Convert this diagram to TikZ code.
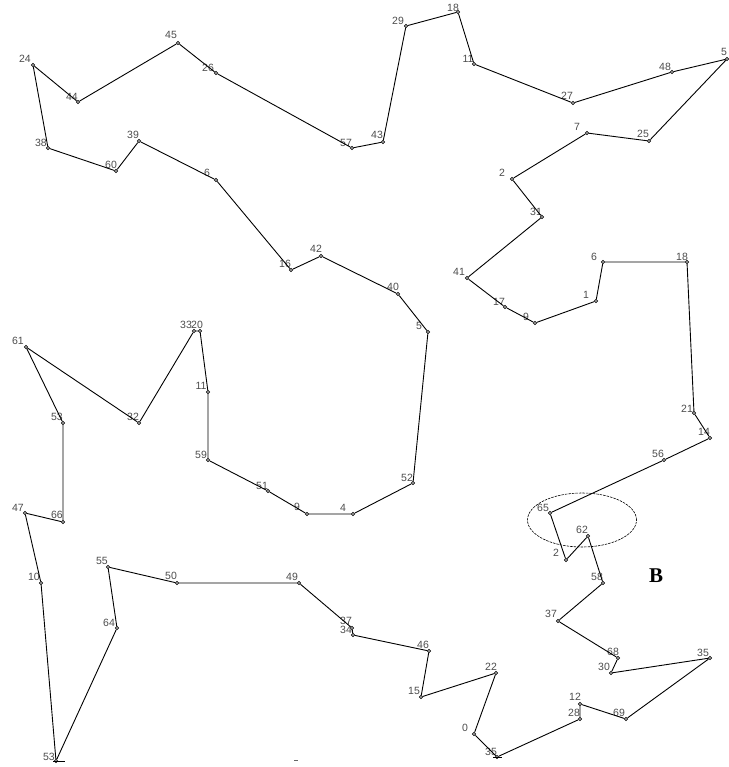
\documentclass[tikz,border=0pt]{standalone}
\usepackage{fontspec}
\usetikzlibrary{shapes.geometric}
\newfontfamily\labfont{Liberation Sans}
\newfontfamily\serfont{Liberation Serif}
\begin{document}
\begin{tikzpicture}[x=1pt,y=-1pt,
  pt/.style={circle,draw,inner sep=0pt,minimum size=3.2pt,line width=0.7pt,fill=white},
  lab/.style={font=\labfont\fontsize{10.5}{10.5}\selectfont,text=black!70,inner sep=0pt},
  tour/.style={line width=0.9pt,black},
  tick/.style={line width=0.9pt,black}]
\useasboundingbox (0,0) rectangle (728,767);
% points
\node[pt] (n5a) at (727,59) {};   \node[lab] at (724,52) {5};
\node[pt] (n48) at (672,72) {};   \node[lab] at (665,67) {48};
\node[pt] (n27) at (573,103) {};  \node[lab] at (567,96) {27};
\node[pt] (n11a) at (474,64) {};  \node[lab] at (468,59) {11};
\node[pt] (n18a) at (458,12) {};  \node[lab] at (453,8) {18};
\node[pt] (n29) at (406,26) {};   \node[lab] at (398,21) {29};
\node[pt] (n43) at (383,142) {};  \node[lab] at (377,135) {43};
\node[pt] (n57) at (352,148) {};  \node[lab] at (346,143) {57};
\node[pt] (n26) at (216,73) {};   \node[lab] at (208,68) {26};
\node[pt] (n45) at (178,43) {};   \node[lab] at (171,35) {45};
\node[pt] (n44) at (78,102) {};   \node[lab] at (72,97) {44};
\node[pt] (n24) at (33,65) {};    \node[lab] at (25,59) {24};
\node[pt] (n38) at (48,148) {};   \node[lab] at (41,143) {38};
\node[pt] (n60) at (116,171) {};  \node[lab] at (111,165) {60};
\node[pt] (n39) at (139,141) {};  \node[lab] at (133,135) {39};
\node[pt] (n6a) at (216,180) {};  \node[lab] at (207,173) {6};
\node[pt] (n16) at (291,270) {};  \node[lab] at (285,264) {16};
\node[pt] (n42) at (321,256) {};  \node[lab] at (316,249) {42};
\node[pt] (n40) at (398,294) {};  \node[lab] at (393,287) {40};
\node[pt] (n5b) at (428,332) {};  \node[lab] at (419,326) {5};
\node[pt] (n52) at (413,483) {};  \node[lab] at (407,478) {52};
\node[pt] (n4) at (353,514) {};   \node[lab] at (343,508) {4};
\node[pt] (n9a) at (307,514) {};  \node[lab] at (297,507) {9};
\node[pt] (n51) at (268,491) {};  \node[lab] at (262,486) {51};
\node[pt] (n59) at (208,460) {};  \node[lab] at (201,455) {59};
\node[pt] (n11b) at (208,392) {}; \node[lab] at (201,386) {11};
\node[pt] (n20) at (200,331) {};  \node[lab] at (197,325) {20};
\node[pt] (n33) at (194,331) {};  \node[lab] at (186,325) {33};
\node[pt] (n32) at (139,423) {};  \node[lab] at (133,417) {32};
\node[pt] (n61) at (26,347) {};   \node[lab] at (18,341) {61};
\node[pt] (n53a) at (63,423) {};  \node[lab] at (57,417) {53};
\node[pt] (n66) at (63,522) {};   \node[lab] at (57,515) {66};
\node[pt] (n47) at (25,513) {};   \node[lab] at (18,508) {47};
\node[pt] (n10) at (41,583) {};   \node[lab] at (34,577) {10};
\node[pt] (n53b) at (56,761) {};  \node[lab] at (49,757) {53};
\node[pt] (n64) at (117,628) {};  \node[lab] at (109,623) {64};
\node[pt] (n55) at (108,567) {};  \node[lab] at (102,561) {55};
\node[pt] (n50) at (177,583) {};  \node[lab] at (171,576) {50};
\node[pt] (n49) at (299,583) {};  \node[lab] at (292,577) {49};
\node[pt] (n37a) at (352,628) {}; \node[lab] at (346,621) {37};
\node[pt] (n34) at (353,635) {};  \node[lab] at (346,630) {34};
\node[pt] (n46) at (429,651) {};  \node[lab] at (423,645) {46};
\node[pt] (n15) at (421,697) {};  \node[lab] at (414,691) {15};
\node[pt] (n22) at (496,673) {};  \node[lab] at (491,667) {22};
\node[pt] (n0) at (474,734) {};   \node[lab] at (465,728) {0};
\node[pt] (n35a) at (497,757) {}; \node[lab] at (491,752) {35};
\node[pt] (n28) at (580,719) {};  \node[lab] at (574,713) {28};
\node[pt] (n12) at (580,704) {};  \node[lab] at (575,697) {12};
\node[pt] (n69) at (626,719) {};  \node[lab] at (619,713) {69};
\node[pt] (n35b) at (710,658) {}; \node[lab] at (703,653) {35};
\node[pt] (n30) at (611,673) {};  \node[lab] at (604,667) {30};
\node[pt] (n68) at (618,658) {};  \node[lab] at (613,652) {68};
\node[pt] (n37b) at (558,621) {}; \node[lab] at (551,614) {37};
\node[pt] (n58) at (603,583) {};  \node[lab] at (597,577) {58};
\node[pt] (n62) at (588,536) {};  \node[lab] at (582,530) {62};
\node[pt] (n2a) at (566,560) {};  \node[lab] at (556,553) {2};
\node[pt] (n65) at (550,513) {};  \node[lab] at (543,508) {65};
\node[pt] (n56) at (664,460) {};  \node[lab] at (658,454) {56};
\node[pt] (n14) at (710,438) {};  \node[lab] at (704,432) {14};
\node[pt] (n21) at (694,413) {};  \node[lab] at (687,409) {21};
\node[pt] (n18b) at (687,262) {}; \node[lab] at (682,257) {18};
\node[pt] (n6b) at (603,262) {};  \node[lab] at (594,257) {6};
\node[pt] (n1) at (596,301) {};   \node[lab] at (586,295) {1};
\node[pt] (n9b) at (535,323) {};  \node[lab] at (526,317) {9};
\node[pt] (n17) at (505,307) {};  \node[lab] at (499,302) {17};
\node[pt] (n41) at (467,278) {};  \node[lab] at (459,272) {41};
\node[pt] (n31) at (542,217) {};  \node[lab] at (536,212) {31};
\node[pt] (n2b) at (512,179) {};  \node[lab] at (502,173) {2};
\node[pt] (n7) at (587,133) {};   \node[lab] at (577,127) {7};
\node[pt] (n25) at (649,141) {};  \node[lab] at (643,134) {25};
% tour
\draw[tour] (n5a) -- (n48) -- (n27) -- (n11a) -- (n18a) -- (n29) -- (n43) -- (n57)
  -- (n26) -- (n45) -- (n44) -- (n24) -- (n38) -- (n60) -- (n39) -- (n6a) -- (n16)
  -- (n42) -- (n40) -- (n5b) -- (n52) -- (n4) -- (n9a) -- (n51) -- (n59) -- (n11b)
  -- (n20) -- (n33) -- (n32) -- (n61) -- (n53a) -- (n66) -- (n47) -- (n10) -- (n53b)
  -- (n64) -- (n55) -- (n50) -- (n49) -- (n37a) -- (n34) -- (n46) -- (n15) -- (n22)
  -- (n0) -- (n35a) -- (n28) -- (n12) -- (n69) -- (n35b) -- (n30) -- (n68) -- (n37b)
  -- (n58) -- (n62) -- (n2a) -- (n65) -- (n56) -- (n14) -- (n21) -- (n18b) -- (n6b)
  -- (n1) -- (n9b) -- (n17) -- (n41) -- (n31) -- (n2b) -- (n7) -- (n25) -- (n5a);
% ticks
\draw[tick] ([xshift=-3pt]n53b.center) -- ([xshift=9pt]n53b.center);
\draw[tick] ([xshift=-4pt]n35a.center) -- ([xshift=5pt]n35a.center);
\coordinate (t1) at (294,760); \coordinate (t2) at (298,760);
\draw[line width=0.6pt,black!60] (t1) -- (t2);
% ellipse
\node[draw,ellipse,dashed,dash pattern=on 2.5pt off 1pt,line width=0.6pt,
  minimum width=109pt,minimum height=54pt,inner sep=0pt] (ell) at (582,520) {};
\node[font=\serfont\bfseries\fontsize{21}{21}\selectfont] (B) at (656,576) {B};
\end{tikzpicture}
\end{document}
